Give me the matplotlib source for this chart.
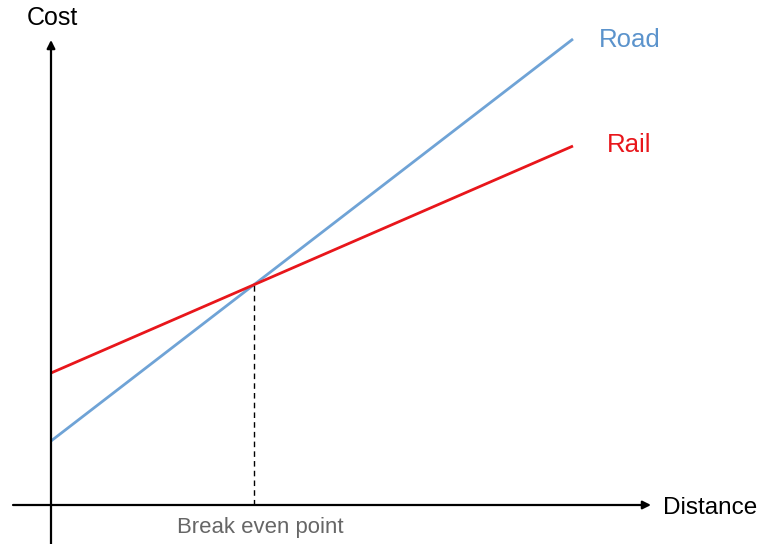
import matplotlib.pyplot as plt

plt.rcParams['font.family'] = ['Liberation Sans', 'DejaVu Sans']

# Distance and cost values (arbitrary units)
distance = [0, 522]
road_cost = [64, 466]
rail_cost = [132, 359]

road_color = "#6fa3d6"
rail_color = "#e8161b"

# break even point from the two lines
road_slope = (road_cost[1] - road_cost[0]) / (distance[1] - distance[0])
rail_slope = (rail_cost[1] - rail_cost[0]) / (distance[1] - distance[0])
be_dist = (rail_cost[0] - road_cost[0]) / (road_slope - rail_slope)
be_cost = road_cost[0] + road_slope * be_dist

fig = plt.figure(figsize=(7.61, 5.44), dpi=100)
ax = fig.add_axes([0, 0, 1, 1])
ax.set_xlim(-51, 710)
ax.set_ylim(-39, 505)
ax.axis("off")

# Axes with arrows
ax.annotate("", xy=(600, 0), xytext=(-38, 0),
            arrowprops=dict(arrowstyle="-|>", color="black", lw=1.6,
                            mutation_scale=12, shrinkA=0, shrinkB=0))
ax.annotate("", xy=(0, 465), xytext=(0, -39),
            arrowprops=dict(arrowstyle="-|>", color="black", lw=1.6,
                            mutation_scale=12, shrinkA=0, shrinkB=0))

ax.plot(distance, road_cost, color=road_color, lw=2.0, solid_capstyle="butt")
ax.plot(distance, rail_cost, color=rail_color, lw=2.0, solid_capstyle="butt")

# dashed line down to the axis
ax.plot([be_dist, be_dist], [0, be_cost], color="black", lw=1, ls=(0, (4, 3)))

ax.text(1, 487, "Cost", fontsize=18, ha="center", va="center")
ax.text(612, -3, "Distance", fontsize=17.5, ha="left", va="center")
ax.text(548, 465, "Road", fontsize=18.5, color="#5b93cc", ha="left", va="center")
ax.text(556, 360, "Rail", fontsize=18.5, color=rail_color, ha="left", va="center")
ax.text(be_dist + 6, -22, "Break even point", fontsize=15.9, color="#666666",
        ha="center", va="center")

fig.savefig("out.png", dpi=100)
